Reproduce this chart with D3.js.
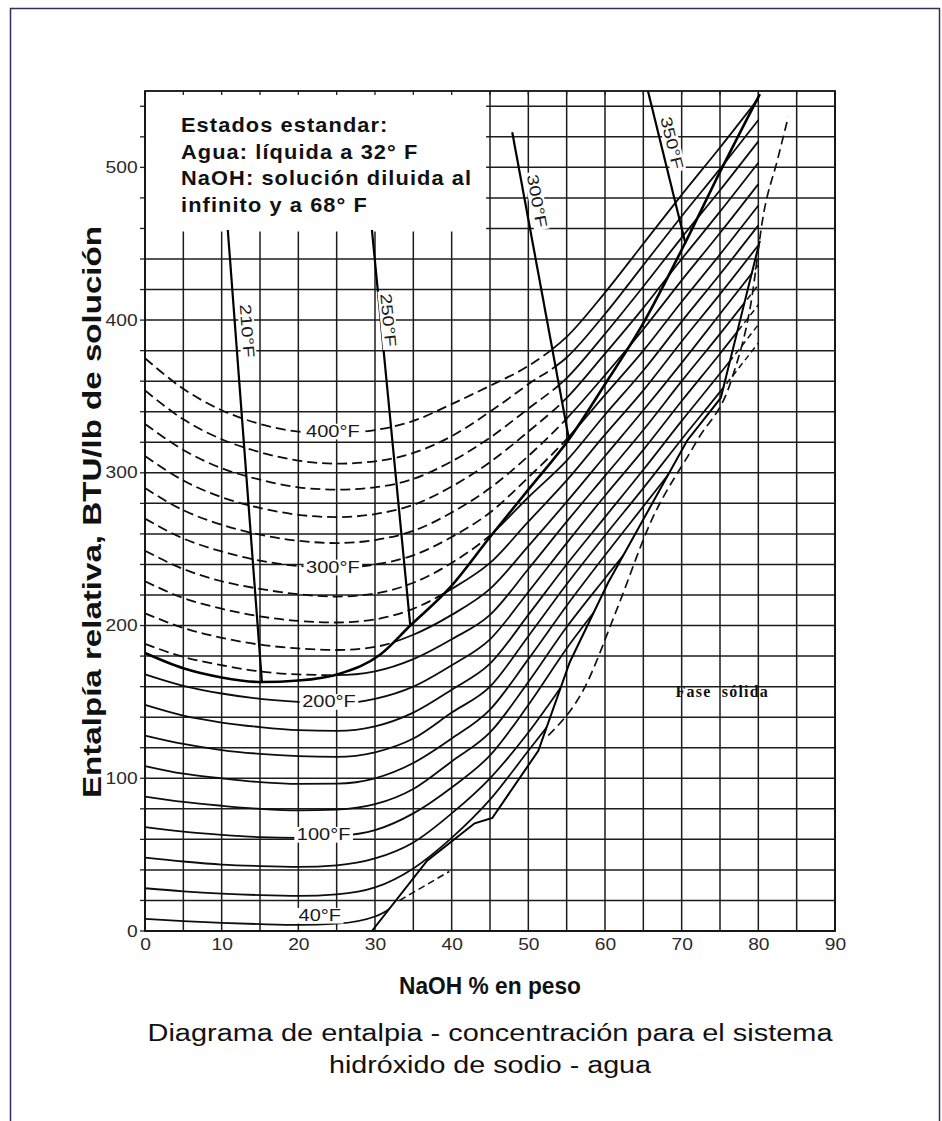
<!DOCTYPE html>
<html><head><meta charset="utf-8">
<script src="https://cdn.jsdelivr.net/npm/d3@7"></script>
<style>body{margin:0;background:#fff} svg{display:block}</style>
</head><body><svg id="c" width="942" height="1121"></svg>
<script>
// ---------------- DATA ----------------
const xTicks = [0,10,20,30,40,50,60,70,80,90];
const yTicks = [0,100,200,300,400,500];
const concGrid = [0,5,10,15,20,25,30,35,40,45,50,55,60,65,70,75,80];
const isoTemps = [40,60,80,100,120,140,160,180,200,220,240,260,280,300,320,340,360,380,400];
const iso40  = [8,6.5,5.3,4.5,4,4.8,9.5,26];
const iso60  = [28,26,24.5,23.5,23,24,28.5,41,61,86,118,150];
const iso80  = [48,45.5,43.5,42.5,42,43,47.5,58,77,100,130,165];
const iso100 = [68,65,63,61.5,61,62,66,77,94,115,148,185,218];
const iso120 = [88,84.5,82,80,79,79.5,83,93,111,130,163,199,231,262];
const iso140 = [108,103,100,97.5,96.3,96.5,100,110,126,145,178,213,246,278,310];
const iso160 = [128,122.5,118.5,116,114.5,114,117,126,143,160,193,227,259,290,322,353,385];
const iso180 = [148,141,136.5,133.5,131.5,131,134,143,158,175,207,240,271,302,334,365,397];
const iso200 = [168,160.5,155.5,152,150,149,152,160,174,191,222,254,285,315,347,378,410];
const iso220 = [188,179.5,174,170,168,167.5,170,178,191,207,237,268,298,328,360,391,423];
const iso240 = [208,198.5,192,187.5,185,184,186,194,207,224,252,281,311,341,372,404,436];
const iso260 = [229,218,211,206,203,202,204,211,224,241,268,295,325,354,386,417,449];
const iso280 = [249,237,229,224,220.5,219,221,228,241,259,284,308,338,367,399,430,462];
const iso300 = [270,257,248.5,242.5,239,238,240,246,258,274,297,322,351,380,412,443,475];
const iso320 = [290,275.5,266,259.5,255.5,254,256,262,274,290,311,335.5,364,394,426,457,489];
const iso340 = [311,295,284,277,272.5,271,273,279,291,307,327,349,378,408,440,471,503];
const iso360 = [332,315,303,295.5,290.5,289,290.5,296,307.5,323,342,362,391,422,454,485,517];
const iso380 = [354,335,322,313.5,308,306,307.5,313,324,340,358,375.5,404,436,468,499,531];
const iso400 = [375,355,341,332,327,326,328,334,345,357,370,389,418,450,482,513,545];
const isoValues = [iso40,iso60,iso80,iso100,iso120,iso140,iso160,iso180,iso200,iso220,
                   iso240,iso260,iso280,iso300,iso320,iso340,iso360,iso380,iso400];

// boiling curve at 1 atm
const boilConc = [0,5,10,15.2,20,25.4,30.7,34.6,39.8,45,50,55.3,60,65,70.4,75,80.2];
const boilEnth = [182,172,166,163,164,168.5,181,200,225,258,289,322,358,398,450,497,548];

// solid-phase boundary
const solidConc = [29.6,36.8,43,45.3,51.3,55.4,60.4,65.5,70.7,75.1,80.2];
const solidEnth = [0,46,70.5,74,118,176,228,274,321,349,452];

// dashed curve beyond the solid boundary
const metaConc = [52.6,57.2,61.5,65.9,72,76.5,79,80.7,82.5,83.9];
const metaEnth = [128,158,210,267,321,361,410,470,505,533];

// dashed continuation of the 40°F isotherm
const ext40Conc = [33.2,39.7];
const ext40Enth = [20,39];

// steep boiling-point lines
const bpLabels  = ["210°F","250°F","300°F","350°F"];
const bpTopConc = [10.8,29.6,47.9,65.6];
const bpTopEnth = [459,459,523,550];
const bpBotConc = [15.25,34.6,55.3,70.5];
const bpBotEnth = [163,200,322,450];
const bpLabConc = [13.3,31.7,51.1,68.7];
const bpLabEnth = [393,400,478,516];

// isotherm labels
const isoLabText = ["400°F","300°F","200°F","100°F","40°F"];
const isoLabConc = [24.5,24.5,24,23.3,22.8];
const isoLabEnth = [327,238,150,63,10];

const legendLines = ["Estados estandar:","Agua: líquida a 32° F","NaOH: solución diluida al","infinito y a 68° F"];
const xTitle = "NaOH % en peso";
const yTitle = "Entalpía relativa, BTU/lb de solución";
const captionLines = ["Diagrama de entalpia - concentración para el sistema","hidróxido de sodio - agua"];
const solidPhaseText = "Fase  sólida";
const solidPhasePos = [75.3,157];

// ---------------- DRAW ----------------
const svg = d3.select("#c");
svg.append("rect").attr("width",942).attr("height",1121).attr("fill","#fff");
svg.append("rect").attr("x",10.5).attr("y",8.5).attr("width",929).attr("height",1130)
   .attr("fill","none").attr("stroke","#30305e").attr("stroke-width",1.5);

const x = d3.scaleLinear().domain([0,90]).range([145,835]);
const y = d3.scaleLinear().domain([0,550]).range([931,91]);
const P = (p,h) => [x(p), y(h)];

// grid
const gGrid = svg.append("g").attr("stroke","#1c1c1c").attr("stroke-width",1.5);
x.ticks(18).forEach(v => gGrid.append("line").attr("x1",x(v)).attr("x2",x(v)).attr("y1",y(0)).attr("y2",y(550)));
y.ticks(22).forEach(v => gGrid.append("line").attr("x1",x(0)).attr("x2",x(90)).attr("y1",y(v)).attr("y2",y(v)));

// legend box (covers the grid)
svg.append("rect").attr("x",x(0)+1).attr("y",y(550)+1)
   .attr("width",x(44.5)-x(0)-1).attr("height",y(458)-y(550)-1).attr("fill","#fff");

// ticks
const gT = svg.append("g").attr("stroke","#222").attr("stroke-width",1.3);
x.ticks(18).forEach(v => gT.append("line").attr("x1",x(v)).attr("x2",x(v)).attr("y1",y(550)).attr("y2",y(550)+4));
y.ticks(22).forEach(v => gT.append("line").attr("x1",x(0)-5).attr("x2",x(0)).attr("y1",y(v)).attr("y2",y(v)));

// clip regions
const defs = svg.append("defs");
function clip(id, pts){
  defs.append("clipPath").attr("id",id).append("polygon")
      .attr("points", pts.map(d=>P(d[0],d[1]).join(",")).join(" "));
}
const boilPts = boilConc.map((p,i)=>[p,boilEnth[i]]);
const iJ = boilConc.indexOf(55.3);
const boilLeft = boilPts.slice(0,iJ+1);
const topOf300 = [bpTopConc[2] + (bpTopConc[2]-bpBotConc[2])/(bpTopEnth[2]-bpBotEnth[2])*(600-bpTopEnth[2]), 600];
const solidPts = solidConc.map((p,i)=>[p,solidEnth[i]]);
clip("liquid", [[-5,-20],[solidConc[0],-20]].concat(solidPts).concat([[solidConc[solidConc.length-1],600],[-5,600]]));
clip("above", [[-5,boilEnth[0]]].concat(boilLeft).concat([topOf300,[-5,600]]));
clip("below", [[-5,-20],[-5,boilEnth[0]]].concat(boilLeft).concat([topOf300,[100,600],[100,-20]]));
const nS = solidConc.length;
clip("ext", [[solidConc[nS-2],solidEnth[nS-2]],[solidConc[nS-1],solidEnth[nS-1]],[solidConc[nS-1],solidEnth[nS-2]]]);

const line = d3.line().x(d=>x(d[0])).y(d=>y(d[1])).curve(d3.curveMonotoneX);
const isoPts = isoValues.map(arr => arr.map((h,i)=>[concGrid[i],h]));

// solid isotherm parts
const gSolid = svg.append("g").attr("clip-path","url(#liquid)").append("g").attr("clip-path","url(#below)");
gSolid.selectAll("path").data(isoPts).join("path").attr("d",line)
  .attr("fill","none").attr("stroke","#0d0d0d").attr("stroke-width",1.8);
// dashed parts above boiling
svg.append("g").attr("clip-path","url(#above)").selectAll("path").data(isoPts).join("path").attr("d",line)
  .attr("fill","none").attr("stroke","#0d0d0d").attr("stroke-width",1.8).attr("stroke-dasharray","10,5");
// dashed extensions beyond the boundary
svg.append("g").attr("clip-path","url(#ext)").selectAll("path").data(isoPts).join("path").attr("d",line)
  .attr("fill","none").attr("stroke","#111").attr("stroke-width",1.5).attr("stroke-dasharray","6,4");

// boiling curve
svg.append("path").datum(boilPts).attr("d", line)
  .attr("fill","none").attr("stroke","#000").attr("stroke-width",2.6);
// solid boundary
svg.append("path").datum(solidPts).attr("d", d3.line().x(d=>x(d[0])).y(d=>y(d[1])))
  .attr("fill","none").attr("stroke","#000").attr("stroke-width",2);
// dashed extra curves
svg.append("path").datum(metaConc.map((p,i)=>[p,metaEnth[i]])).attr("d", line)
  .attr("fill","none").attr("stroke","#111").attr("stroke-width",1.7).attr("stroke-dasharray","9,5");
svg.append("path").datum(ext40Conc.map((p,i)=>[p,ext40Enth[i]])).attr("d", d3.line().x(d=>x(d[0])).y(d=>y(d[1])))
  .attr("fill","none").attr("stroke","#111").attr("stroke-width",1.6).attr("stroke-dasharray","7,4");

// boiling-point lines
bpLabels.forEach((t,i)=>{
  svg.append("line").attr("x1",x(bpTopConc[i])).attr("y1",y(bpTopEnth[i]))
     .attr("x2",x(bpBotConc[i])).attr("y2",y(bpBotEnth[i]))
     .attr("stroke","#000").attr("stroke-width",2.2);
});

// plot frame
svg.append("rect").attr("x",x(0)).attr("y",y(550)).attr("width",x(90)-x(0)).attr("height",y(0)-y(550))
  .attr("fill","none").attr("stroke","#111").attr("stroke-width",1.8);

// labels with white background
function bgLabel(text, cx, cy, rot, size, sx){
  const g = svg.append("g").attr("transform",`translate(${cx},${cy}) rotate(${rot}) scale(${sx},1)`);
  const r = g.append("rect").attr("fill","#fff");
  const t = g.append("text").text(text).attr("text-anchor","middle").attr("dominant-baseline","central")
    .style("font-family","Liberation Sans").style("font-size",size+"px").attr("fill","#1a1a1a");
  const b = t.node().getBBox();
  r.attr("x",b.x-2).attr("y",b.y+1).attr("width",b.width+4).attr("height",b.height-2);
}
isoLabText.forEach((t,i)=> bgLabel(t, x(isoLabConc[i]), y(isoLabEnth[i]), 0, 16, 1.25));
bpLabels.forEach((t,i)=>{
  const ang = Math.atan2(y(bpBotEnth[i])-y(bpTopEnth[i]), x(bpBotConc[i])-x(bpTopConc[i]))*180/Math.PI;
  bgLabel(t, x(bpLabConc[i]), y(bpLabEnth[i]), ang, 16, 1.25);
});
svg.append("text").attr("x",x(solidPhasePos[0])).attr("y",y(solidPhasePos[1])).attr("text-anchor","middle")
  .attr("dominant-baseline","central").style("white-space","pre")
  .style("font-family","Liberation Serif").style("font-weight","700").style("font-size","16px")
  .style("letter-spacing","1.2px").attr("fill","#111").text(solidPhaseText);

// axes tick labels
const ax = svg.append("g").attr("transform",`translate(0,${y(0)})`)
  .call(d3.axisBottom(x).tickValues(xTicks).tickSize(0).tickPadding(8));
ax.select(".domain").remove();
ax.selectAll("text").style("font-family","Liberation Sans").style("font-size","16px").attr("fill","#2a2a2a")
  .attr("transform","scale(1.2,1)");
const ay = svg.append("g").attr("transform",`translate(${x(0)-5},0)`)
  .call(d3.axisLeft(y).tickValues(yTicks).tickSize(0).tickPadding(2));
ay.select(".domain").remove();
ay.selectAll("text").style("font-family","Liberation Sans").style("font-size","16px").attr("fill","#2a2a2a")
  .attr("transform","scale(1.2,1)");

// legend text
const gLeg = svg.append("g").attr("transform","translate(181,0) scale(1.09,1)");
legendLines.forEach((t,i)=>{
  gLeg.append("text").attr("x",0).attr("y",132+i*26.7).text(t)
    .style("font-family","Liberation Sans").style("font-weight","700").style("font-size","20px")
    .style("letter-spacing","1px").attr("fill","#111");
});

// titles
svg.append("text").attr("x",490).attr("y",994).attr("text-anchor","middle").text(xTitle)
  .attr("textLength",182).attr("lengthAdjust","spacingAndGlyphs")
  .style("font-family","Liberation Sans").style("font-weight","700").style("font-size","24px").attr("fill","#111");
svg.append("text").attr("transform","translate(101,512) rotate(-90)").attr("text-anchor","middle").text(yTitle)
  .attr("textLength",572).attr("lengthAdjust","spacingAndGlyphs")
  .style("font-family","Liberation Sans").style("font-weight","700").style("font-size","25px").attr("fill","#111");
const capLen = [685,322];
captionLines.forEach((t,i)=>{
  svg.append("text").attr("x",490).attr("y",1041+i*32).attr("text-anchor","middle").text(t)
    .attr("textLength",capLen[i]).attr("lengthAdjust","spacingAndGlyphs")
    .style("font-family","Liberation Sans").style("font-size","23px").attr("fill","#111");
});
</script></body></html>
